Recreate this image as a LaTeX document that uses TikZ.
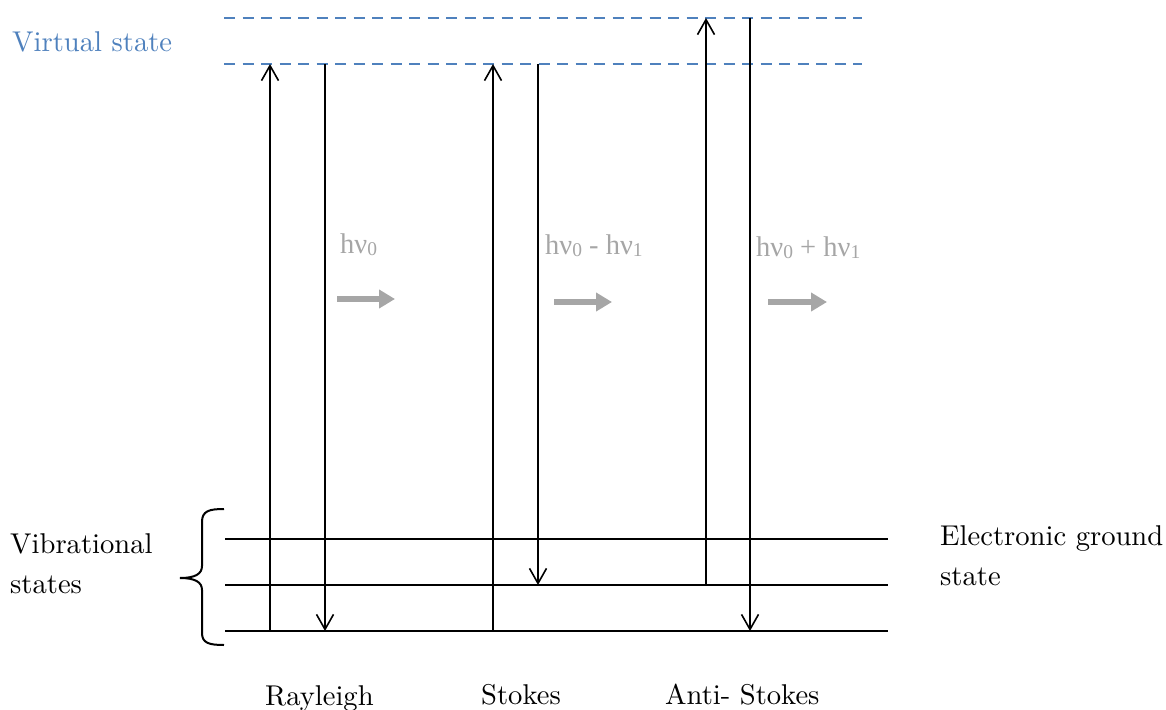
\documentclass[tikz,border=0pt]{standalone}
\usepackage{fontspec}
\newfontfamily\lmten{lmroman10-regular.otf}
\newfontfamily\timesf{Liberation Serif}
\usetikzlibrary{arrows.meta}
\definecolor{vblue}{HTML}{4F81BD}
\definecolor{pgray}{HTML}{A6A6A6}
\tikzset{
  level/.style={line width=2pt},
  vline/.style={line width=2.2pt, vblue, dash pattern=on 11pt off 7.5pt},
  trans/.style={line width=1.6pt, -{Straight Barb[length=15pt,width=17pt,line width=1.6pt]}},
  photon/.style={line width=5.5pt, pgray, -{Triangle[length=16pt,width=18pt]}},
  lbl/.style={anchor=base west, inner sep=0pt, font=\lmten\fontsize{28.6}{34}\selectfont},
  glbl/.style={anchor=base west, inner sep=0pt, text=pgray, font=\timesf\fontsize{28.5}{32}\selectfont},
}
\newcommand{\sbs}[1]{\raisebox{-2pt}{\fontsize{19.5}{20}\selectfont #1}}
\begin{document}
\begin{tikzpicture}[x=1pt,y=-1pt]
\useasboundingbox (0,0) rectangle (1166,709);
% virtual levels
\coordinate (vaL) at (224,18);  \coordinate (vaR) at (862,18);
\coordinate (vbL) at (224,64);  \coordinate (vbR) at (862,64);
\draw[vline] (vaL) -- (vaR);
\draw[vline] (vbL) -- (vbR);
% ground levels
\coordinate (g2L) at (225,539); \coordinate (g2R) at (888,539);
\coordinate (g1L) at (225,585); \coordinate (g1R) at (888,585);
\coordinate (g0L) at (225,631); \coordinate (g0R) at (888,631);
\draw[level] (g2L) -- (g2R);
\draw[level] (g1L) -- (g1R);
\draw[level] (g0L) -- (g0R);
% brace
\draw[line width=2pt] (224,509) .. controls (209,509) and (202,511) .. (202,522) -- (202,566)
  .. controls (202,574) and (195,578) .. (180,578)
  .. controls (195,578) and (202,582) .. (202,590) -- (202,633)
  .. controls (202,643) and (209,645) .. (224,645);
% transition endpoints
\coordinate (ra0) at (270,631); \coordinate (ra1) at (270,64);
\coordinate (rb0) at (325,64);  \coordinate (rb1) at (325,631);
\coordinate (sa0) at (493,631); \coordinate (sa1) at (493,64);
\coordinate (sb0) at (538,64);  \coordinate (sb1) at (538,585);
\coordinate (aa0) at (706,585); \coordinate (aa1) at (706,18);
\coordinate (ab0) at (750,18);  \coordinate (ab1) at (750,631);
\draw[trans] (ra0) -- (ra1);
\draw[trans] (rb0) -- (rb1);
\draw[trans] (sa0) -- (sa1);
\draw[trans] (sb0) -- (sb1);
\draw[trans] (aa0) -- (aa1);
\draw[trans] (ab0) -- (ab1);
% photons
\coordinate (p1a) at (337,299); \coordinate (p1b) at (395,299);
\coordinate (p2a) at (554,302); \coordinate (p2b) at (612,302);
\coordinate (p3a) at (768,302); \coordinate (p3b) at (827,302);
\draw[photon] (p1a) -- (p1b);
\draw[photon] (p2a) -- (p2b);
\draw[photon] (p3a) -- (p3b);
\node[glbl] (h1) at (340,253) {hν\sbs{0}};
\node[glbl] (h2) at (545,254) {hν\sbs{0} - hν\sbs{1}};
\node[glbl] (h3) at (756,256) {hν\sbs{0} + hν\sbs{1}};
% labels
\node[lbl, text=vblue] (virt) at (12,52) {Virtual state};
\node[lbl] (vib1) at (10,553) {Vibrational};
\node[lbl] (vib2) at (10,593) {states};
\node[lbl] (el1) at (940,545) {Electronic ground};
\node[lbl] (el2) at (940,585) {state};
\node[lbl] (ray) at (265,705) {Rayleigh};
\node[lbl] (sto) at (481,704) {Stokes};
\node[lbl] (ant) at (665,704) {Anti- Stokes};
\end{tikzpicture}
\end{document}
